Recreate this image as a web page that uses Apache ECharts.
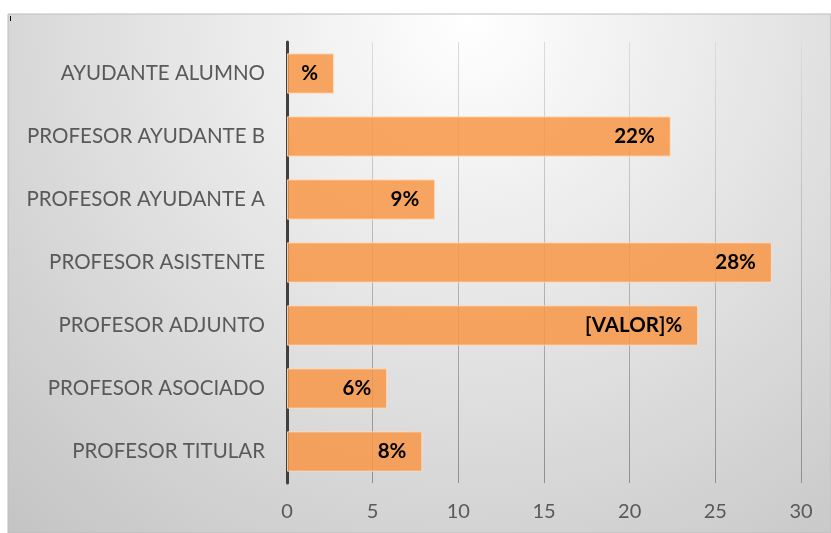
<!DOCTYPE html>
<html>
<head>
<meta charset="utf-8">
<script src="https://cdn.jsdelivr.net/npm/echarts@6/dist/echarts.min.js"></script>
<style>
  html, body { margin: 0; padding: 0; background: #fff; }
  #chart { width: 831px; height: 533px; }
</style>
</head>
<body>
<div id="chart"></div>
<script>
// categories bottom -> top
const categories = [
  "PROFESOR TITULAR",
  "PROFESOR ASOCIADO",
  "PROFESOR ADJUNTO",
  "PROFESOR ASISTENTE",
  "PROFESOR AYUDANTE A",
  "PROFESOR AYUDANTE B",
  "AYUDANTE ALUMNO"
];
const values = [7.9, 5.85, 24, 28.3, 8.65, 22.4, 2.75];
const valueLabels = ["8%", "6%", "[VALOR]%", "28%", "9%", "22%", "%"];
const xTicks = { min: 0, max: 30, interval: 5 };

const chart = echarts.init(document.getElementById("chart"));

const option = {
  backgroundColor: "#ffffff",
  animation: false,
  graphic: [
    {
      type: "rect",
      z: -10,
      silent: true,
      shape: { x: 8, y: 14, width: 823, height: 519 },
      style: {
        fill: new echarts.graphic.RadialGradient(470, 20, 700, [
          { offset: 0, color: "#ffffff" },
          { offset: 1, color: "#c3c3c3" }
        ], true),
        stroke: "#bdbdbd",
        lineWidth: 1
      }
    },
    {
      type: "rect",
      z: 10,
      silent: true,
      shape: { x: 10, y: 16, width: 1, height: 5 },
      style: { fill: "#000" }
    }
  ],
  grid: { left: 287, right: 30, top: 42, bottom: 50, containLabel: false },
  xAxis: {
    type: "value",
    min: xTicks.min,
    max: xTicks.max,
    interval: xTicks.interval,
    axisLine: { show: false },
    axisTick: { show: false },
    axisLabel: {
      color: "#595959",
      fontSize: 20,
      fontFamily: "Lato",
      margin: 19
    },
    splitLine: {
      show: true,
      lineStyle: {
        width: 1,
        color: new echarts.graphic.LinearGradient(0, 42, 0, 482, [
          { offset: 0, color: "#dcdcdc" },
          { offset: 1, color: "#8f8f8f" }
        ], true)
      }
    }
  },
  yAxis: {
    type: "category",
    data: categories,
    axisLine: { show: true, lineStyle: { color: "#404040", width: 3 } },
    axisTick: { show: false },
    axisLabel: {
      color: "#595959",
      fontSize: 20.5,
      fontFamily: "Lato",
      margin: 22
    },
    splitLine: { show: false }
  },
  series: [
    {
      type: "bar",
      data: values,
      barCategoryGap: "36%",
      itemStyle: {
        color: "rgba(247,150,70,0.85)",
        borderColor: "rgba(255,230,205,0.8)",
        borderWidth: 1
      },
      label: {
        show: true,
        position: "insideRight",
        distance: 16,
        color: "#000",
        fontWeight: "bold",
        fontSize: 20.5,
        fontFamily: "Lato",
        formatter: (p) => valueLabels[p.dataIndex]
      }
    }
  ]
};

chart.setOption(option);
</script>
</body>
</html>
